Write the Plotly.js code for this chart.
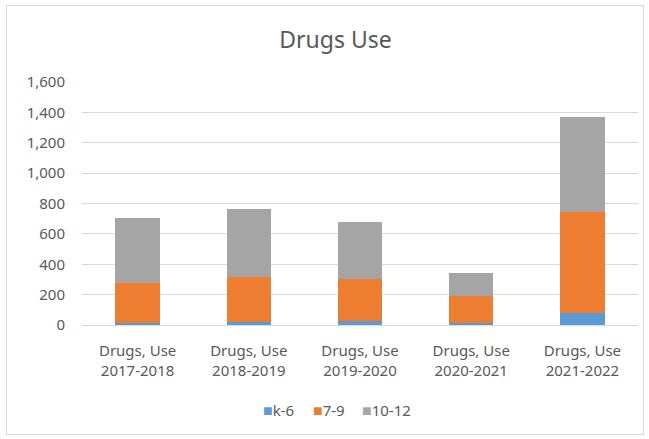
<!DOCTYPE html>
<html>
<head>
<meta charset="utf-8">
<script src="https://cdn.plot.ly/plotly-3.0.1.min.js"></script>
<style>
html,body{margin:0;padding:0;background:#fff;}
#wrap{position:relative;width:649px;height:439px;}
#chart{width:649px;height:439px;}
#border{position:absolute;left:6px;top:5px;width:636px;height:428px;border:1px solid #d9d9d9;pointer-events:none;}
</style>
</head>
<body>
<div id="wrap"><div id="chart"></div><div id="border"></div></div>
<script>
const categories = ["Drugs, Use<br>2017-2018","Drugs, Use<br>2018-2019","Drugs, Use<br>2019-2020","Drugs, Use<br>2020-2021","Drugs, Use<br>2021-2022"];
const k6 = [10, 18, 24, 15, 77];
const g79 = [265, 296, 277, 176, 668];
const g1012 = [428, 449, 376, 150, 626];
const seriesNames = ["k-6", "7-9", "10-12"];
const colors = ["#5b9bd5", "#ed7d31", "#a5a5a5"];

const font = "Noto Sans, sans-serif";
const textColor = "#595959";
const traces = [k6, g79, g1012].map((vals, i) => ({
  type: "bar", x: categories, y: vals, name: seriesNames[i],
  marker: {color: colors[i]}, hoverinfo: "skip", showlegend: false
}));

// legend drawn as text annotations built from series names/colours
const legendX = [0.322, 0.411, 0.5];
const annotations = seriesNames.map((n, i) => ({
  xref: "paper", yref: "paper", x: legendX[i], y: -0.35, xanchor: "left", yanchor: "middle",
  showarrow: false,
  text: "<span style='color:" + colors[i] + "; font-size:16px'>■</span>" + n,
  font: {family: font, size: 15, color: textColor}
}));

Plotly.newPlot("chart", traces, {
  width: 649, height: 439,
  barmode: "stack", bargap: 0.6,
  margin: {l: 82, r: 11, t: 82, b: 114},
  paper_bgcolor: "#fff", plot_bgcolor: "#fff",
  title: {text: "Drugs Use", font: {family: font, size: 23, color: textColor}, x: 0.517, xanchor: "center", y: 0.91, yanchor: "middle"},
  font: {family: font, color: textColor, size: 15},
  xaxis: {tickfont: {family: font, size: 15, color: textColor}, showline: false, ticks: "", ticklabelstandoff: 15},
  yaxis: {range: [0, 1600], dtick: 200, tickformat: ",", gridcolor: "#d9d9d9", gridwidth: 1,
          zeroline: true, zerolinecolor: "#d9d9d9", zerolinewidth: 1,
          tickfont: {family: font, size: 15, color: textColor}, ticks: "", ticklabelstandoff: 16},
  annotations: annotations,
  showlegend: false
}, {staticPlot: true, displayModeBar: false});
</script>
</body>
</html>
